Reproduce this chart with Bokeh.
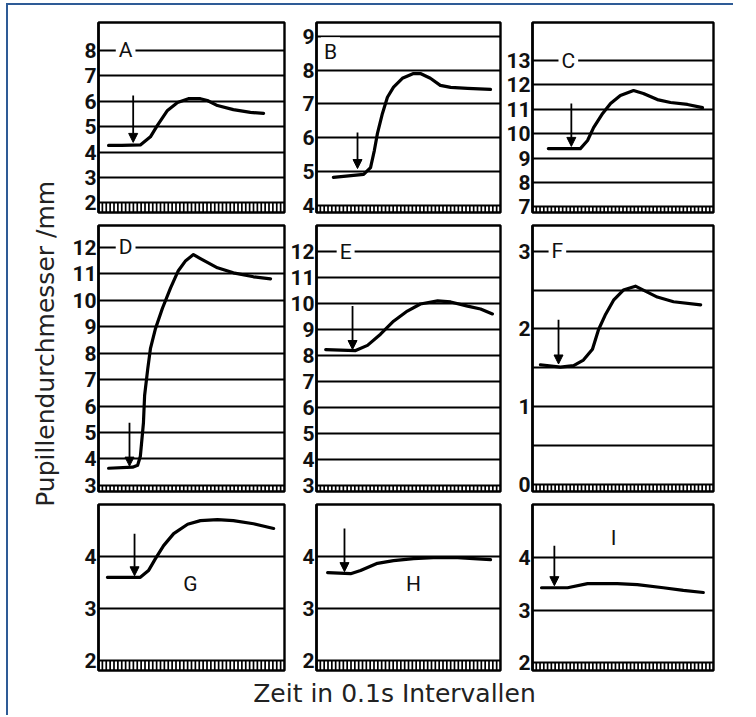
from bokeh.plotting import figure
from bokeh.models import FixedTicker, Range1d, Label, Arrow, NormalHead
from bokeh.layouts import row, column
from bokeh.embed import file_html
from bokeh.resources import INLINE
from bokeh.core.properties import value
import math

# ---------------- data (time in 0.1 s intervals, pupil diameter in mm) ----------------
panel_letters = ["A", "B", "C", "D", "E", "F", "G", "H", "I"]

A_t = [2.6, 6.0, 10.8, 13.4, 15.2, 17.8, 20.4, 23.2, 26.3, 28.1, 30.7, 34.8, 39.2, 42.6]
A_d = [4.26, 4.26, 4.28, 4.6, 5.05, 5.64, 5.95, 6.1, 6.1, 6.03, 5.83, 5.67, 5.56, 5.52]

B_t = [4.4, 12.3, 14.1, 15.1, 15.9, 17.2, 18.5, 20.1, 22.4, 25.3, 27.1, 29.7, 32.3, 35.0, 39.4, 45.4]
B_d = [4.83, 4.92, 5.12, 5.63, 6.13, 6.72, 7.2, 7.5, 7.76, 7.9, 7.9, 7.76, 7.55, 7.49, 7.46, 7.43]

C_t = [4.2, 12.7, 14.6, 16.2, 18.6, 20.7, 23.3, 26.8, 29.4, 33.1, 36.6, 41.1, 45.1]
C_d = [9.39, 9.39, 9.72, 10.25, 10.83, 11.24, 11.57, 11.77, 11.65, 11.4, 11.28, 11.2, 11.07]

D_t = [2.6, 8.8, 10.1, 10.8, 11.6, 11.9, 12.7, 13.4, 14.7, 16.5, 18.6, 20.6, 22.5, 24.5, 26.3, 30.7, 34.8, 40.0, 44.4]
D_d = [3.65, 3.69, 3.76, 4.1, 5.37, 6.4, 7.4, 8.17, 8.93, 9.7, 10.47, 11.12, 11.5, 11.73, 11.58, 11.23, 11.04, 10.89, 10.81]

E_t = [2.4, 10.2, 13.3, 16.7, 20.1, 23.7, 27.1, 31.6, 35.0, 39.4, 42.8, 45.9]
E_d = [8.23, 8.19, 8.39, 8.82, 9.32, 9.71, 9.98, 10.1, 10.06, 9.9, 9.79, 9.6]

F_t = [2.1, 7.4, 10.9, 13.5, 15.9, 17.5, 19.4, 21.5, 24.1, 27.3, 29.4, 33.1, 37.4, 44.6]
F_d = [1.54, 1.51, 1.53, 1.6, 1.74, 1.99, 2.19, 2.37, 2.5, 2.55, 2.5, 2.41, 2.35, 2.31]

G_t = [2.3, 10.8, 12.9, 14.7, 16.8, 19.4, 23.0, 26.3, 30.7, 34.8, 40.0, 45.2]
G_d = [3.6, 3.6, 3.73, 3.96, 4.21, 4.44, 4.62, 4.69, 4.71, 4.69, 4.63, 4.54]

H_t = [2.9, 8.9, 11.5, 15.9, 20.1, 25.3, 30.5, 36.8, 41.0, 45.4]
H_d = [3.69, 3.67, 3.73, 3.87, 3.92, 3.96, 3.98, 3.98, 3.96, 3.94]

I_t = [2.4, 9.3, 14.6, 22.5, 27.8, 34.7, 40.0, 45.3]
I_d = [3.43, 3.43, 3.51, 3.51, 3.49, 3.43, 3.38, 3.34]

# stimulus arrows: time, top of arrow, tip of arrow (mm)
stim_t = [8.95, 10.7, 10.3, 8.0, 9.4, 6.9, 9.3, 7.3, 5.8]
arrow_top = [6.23, 6.16, 11.24, 5.37, 9.9, 2.12, 4.44, 4.54, 4.23]
arrow_tip = [4.38, 5.09, 9.48, 3.73, 8.23, 1.55, 3.63, 3.71, 3.47]

# y tick labels per panel
A_yticks = [2, 3, 4, 5, 6, 7, 8]
B_yticks = [4, 5, 6, 7, 8, 9]
C_yticks = [7, 8, 9, 10, 11, 12, 13]
D_yticks = [3, 4, 5, 6, 7, 8, 9, 10, 11, 12]
E_yticks = [3, 4, 5, 6, 7, 8, 9, 10, 11, 12]
F_yticks = [0, 1, 2, 3]
G_yticks = [2, 3, 4]
H_yticks = [2, 3, 4]
I_yticks = [2, 3, 4]
F_gridticks = [0, 0.5, 1, 1.5, 2, 2.5, 3]

# 0.1 s interval marks of the time ruler
time_ticks = list(range(0, 49))

y_title = "Pupillendurchmesser /mm"
x_title = "Zeit in 0.1s Intervallen"

# ---------------- layout / style ----------------
series_t = [A_t, B_t, C_t, D_t, E_t, F_t, G_t, H_t, I_t]
series_d = [A_d, B_d, C_d, D_d, E_d, F_d, G_d, H_d, I_d]
yticks_all = [A_yticks, B_yticks, C_yticks, D_yticks, E_yticks, F_yticks, G_yticks, H_yticks, I_yticks]
grid_all = [A_yticks, B_yticks, C_yticks, D_yticks, E_yticks, F_gridticks, G_yticks, H_yticks, I_yticks]
yranges = [(1.62, 9.10), (3.79, 9.41), (6.77, 14.56),
           (2.77, 12.83), (2.77, 13.0), (-0.089, 3.33),
           (1.81, 5.0), (1.81, 5.0), (1.85, 5.02)]
letter_pos = [(7.0, 8.0), (3.65, 8.53), (9.5, 13.0),
              (7.0, 12.0), (7.6, 12.0), (6.6, 3.0),
              (23.7, 3.48), (25.3, 3.48), (21.5, 4.38)]

col_w = [218, 216, 231]
col_bl = [30, 30, 30]
col_br = [2, 2, 20]
row_h = [214, 279, 177]
row_bt = [17, 6, 6]
row_bb = [7, 7, 5]

NUM_FONT = "Roboto"
LBL_FONT = "DejaVu Sans"


def make_panel(i, r, c):
    y0, y1 = yranges[i]
    ybot = min(yticks_all[i])
    p = figure(width=col_w[c], height=row_h[r], output_backend="svg", toolbar_location=None,
               x_range=Range1d(0, 48), y_range=Range1d(y0, y1),
               min_border_left=col_bl[c], min_border_right=col_br[c],
               min_border_top=row_bt[r], min_border_bottom=row_bb[r],
               background_fill_color="white", border_fill_color="white")
    p.outline_line_color = "black"
    p.outline_line_width = 2.4
    # y axis
    yax = p.yaxis[0]
    yax.ticker = FixedTicker(ticks=yticks_all[i])
    yax.major_tick_in = 0
    yax.major_tick_out = 0
    yax.minor_tick_in = 0
    yax.minor_tick_out = 0
    yax.axis_line_color = "black"
    yax.axis_line_width = 2.4
    yax.major_label_standoff = 2
    yax.major_label_text_font = NUM_FONT
    yax.major_label_text_font_size = "21px"
    yax.major_label_text_font_style = "bold"
    yax.major_label_text_color = "#111111"
    # no x axis labels; the time ruler band is drawn as short interval marks
    p.xaxis.visible = False
    p.xgrid.visible = False
    n = len(time_ticks)
    p.segment(x0=time_ticks, y0=[y0] * n, x1=time_ticks, y1=[ybot] * n,
              line_color="black", line_width=1.7)
    # horizontal grid lines
    p.ygrid.ticker = FixedTicker(ticks=grid_all[i])
    p.ygrid.grid_line_color = "black"
    p.ygrid.grid_line_width = 1.8
    p.ygrid.grid_line_alpha = 1.0
    # curve
    p.line(series_t[i], series_d[i], line_color="black", line_width=3.2,
           line_join="round", line_cap="round")
    # stimulus arrow
    p.add_layout(Arrow(end=NormalHead(size=9, fill_color="black", line_color="black", line_width=1),
                       x_start=stim_t[i], y_start=arrow_top[i],
                       x_end=stim_t[i], y_end=arrow_tip[i],
                       line_color="black", line_width=1.8))
    lx, ly = letter_pos[i]
    p.add_layout(Label(x=lx, y=ly, text=panel_letters[i], text_align="center",
                       text_baseline="middle", text_font=NUM_FONT, text_font_size="21px",
                       text_color="#111111", background_fill_color="white", padding=3))
    return p


panels = []
for r in range(3):
    rr = []
    for c in range(3):
        rr.append(make_panel(r * 3 + c, r, c))
    panels.append(row(*rr, spacing=0))

grid_h = sum(row_h)
total_w = sum(col_w)

ylab = figure(width=60, height=grid_h, output_backend="svg", toolbar_location=None,
              x_range=Range1d(0, 1), y_range=Range1d(0, 1),
              min_border=0, border_fill_color="white")
ylab.axis.visible = False
ylab.grid.visible = False
ylab.outline_line_color = None
ylab.text(x=[0.62], y=[0.495], text=[y_title], angle=math.pi / 2, text_align="center",
          text_baseline="middle", text_font=value(LBL_FONT), text_font_size="25px",
          text_color="#222222")

xlab = figure(width=60 + total_w, height=40, output_backend="svg", toolbar_location=None,
              x_range=Range1d(0, 1), y_range=Range1d(0, 1),
              min_border=0, border_fill_color="white")
xlab.axis.visible = False
xlab.grid.visible = False
xlab.outline_line_color = None
xlab.text(x=[386 / (60 + total_w)], y=[0.54], text=[x_title], text_align="center",
          text_baseline="middle", text_font=value(LBL_FONT), text_font_size="25px",
          text_color="#222222")

layout = column(row(ylab, column(*panels, spacing=0), spacing=0), xlab, spacing=0,
                styles={"border-left": "2px solid #2e5b96", "border-top": "2px solid #2e5b96",
                        "margin-left": "6px", "margin-top": "3px"})

open("out.html", "w").write(file_html(layout, INLINE))
